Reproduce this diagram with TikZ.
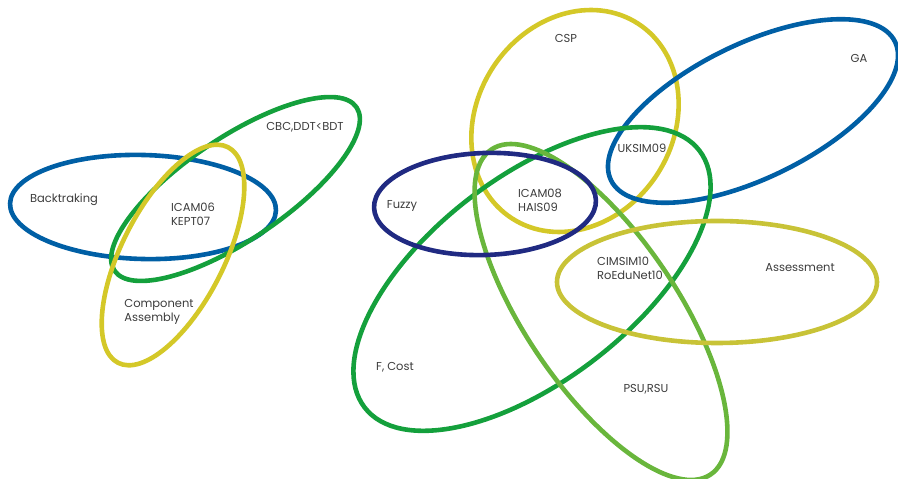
\documentclass[tikz,border=0pt]{standalone}
\usepackage{fontspec}
\setmainfont{Poppins}
\definecolor{cblue}{RGB}{0,95,165}
\definecolor{cnavy}{RGB}{32,42,130}
\definecolor{cgreen}{RGB}{20,160,60}
\definecolor{clgreen}{RGB}{105,182,60}
\definecolor{cyellow}{RGB}{212,200,40}
\definecolor{colive}{RGB}{200,195,55}
\definecolor{ctext}{RGB}{60,60,60}
\begin{document}
\begin{tikzpicture}[x=1pt,y=1pt,
  ring/.style={line width=4.6pt},
  lbl/.style={text=ctext,font=\fontsize{11.5}{14}\selectfont,inner sep=0pt,align=left}]
\useasboundingbox (0,0) rectangle (898,479);
% left group
\draw[ring,cblue,rotate around={-1.5:(143,272)}] (143,272) ellipse [x radius=133,y radius=52];
\draw[ring,cgreen,rotate around={34:(235.5,290)}] (235.5,290) ellipse [x radius=146,y radius=51];
\draw[ring,cyellow,rotate around={63:(173,224)}] (173,224) ellipse [x radius=121,y radius=51];
% right group
\draw[ring,cyellow,rotate around={57:(575,358)}] (575,358) ellipse [x radius=116,y radius=98];
\draw[ring,cblue,rotate around={26:(753,368)}] (753,368) ellipse [x radius=158,y radius=67];
\draw[ring,cgreen,rotate around={37.5:(532,200)}] (532,200) ellipse [x radius=211,y radius=102];
\draw[ring,clgreen,rotate around={-56:(601,167)}] (601,167) ellipse [x radius=196,y radius=76];
\draw[ring,cnavy,rotate around={2:(485,275)}] (485,275) ellipse [x radius=111,y radius=51];
\draw[ring,colive] (717,197) ellipse [x radius=160,y radius=61];
% labels
\node[lbl] (back) at (64,279) {Backtraking};
\node[lbl] (icam06) at (193,265) {ICAM06\\KEPT07};
\node[lbl] (cbc) at (305,352) {CBC,DDT<BDT};
\node[lbl] (comp) at (159,167) {Component\\Assembly};
\node[lbl] (csp) at (566,441) {CSP};
\node[lbl] (ga) at (859,421) {GA};
\node[lbl] (uksim) at (642,331) {UKSIM09};
\node[lbl] (fuzzy) at (402,273) {Fuzzy};
\node[lbl] (icam08) at (540,279) {ICAM08\\HAIS09};
\node[lbl] (cimsim) at (630,211) {CIMSIM10\\RoEduNet10};
\node[lbl] (assess) at (800,211) {Assessment};
\node[lbl] (fcost) at (395,112) {F, Cost};
\node[lbl] (psu) at (646,90) {PSU,RSU};
\end{tikzpicture}
\end{document}
